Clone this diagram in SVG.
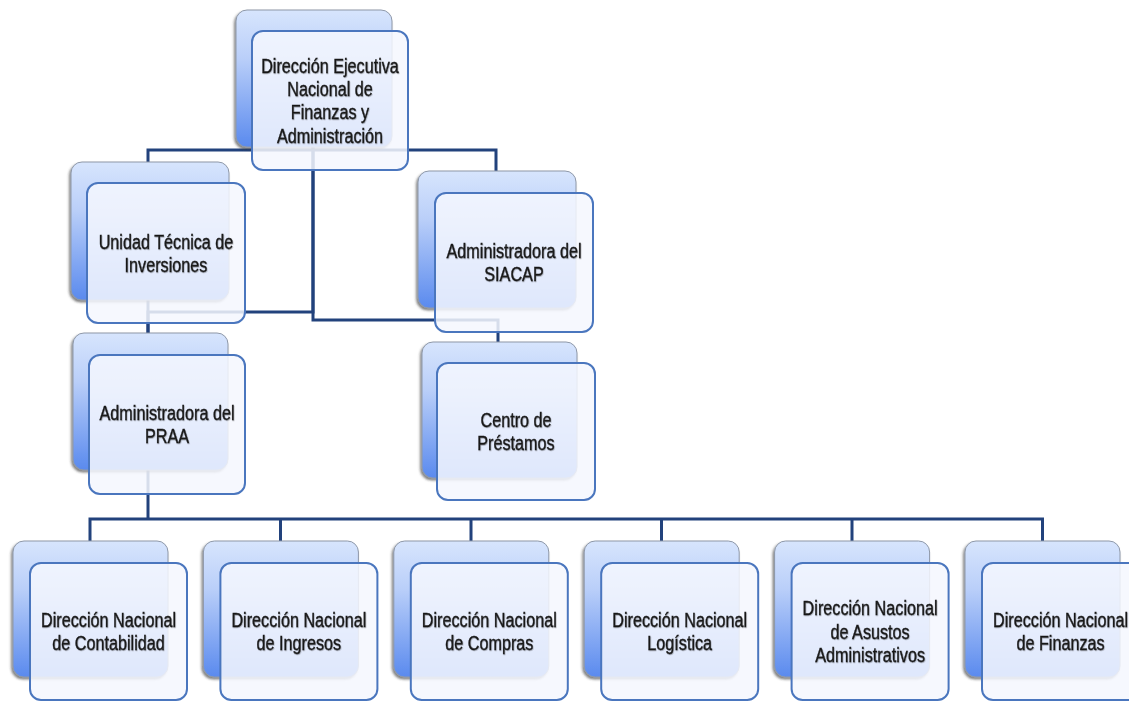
<svg xmlns="http://www.w3.org/2000/svg" width="1129" height="702" viewBox="0 0 1129 702">
<defs>
<linearGradient id="bg" x1="0" y1="0" x2="0" y2="1">
<stop offset="0" stop-color="#D7E5FD"/>
<stop offset="0.35" stop-color="#BACFF9"/>
<stop offset="1" stop-color="#5A8AEE"/>
</linearGradient>
<filter id="sh" x="-10%" y="-10%" width="120%" height="120%">
<feDropShadow dx="-1.5" dy="2" stdDeviation="1.2" flood-color="#333" flood-opacity="0.6"/>
</filter>
<filter id="ts" x="-5%" y="-20%" width="110%" height="140%">
<feDropShadow dx="0.6" dy="0.8" stdDeviation="0.6" flood-color="#000" flood-opacity="0.35"/>
</filter>
</defs>
<style>
.back{fill:url(#bg);stroke:#8E98A8;stroke-width:1;filter:url(#sh)}
.front{fill:#F4F7FE;fill-opacity:0.86;stroke:#4A76BE;stroke-width:2}
.lbl{font-family:"Liberation Sans",Arial,sans-serif;font-size:20px;fill:#1A1A1A;stroke:#1A1A1A;stroke-width:0.35;text-anchor:middle;filter:url(#ts)}
.con{fill:none;stroke:#22427C;stroke-width:3;stroke-linejoin:miter}
</style>
<rect width="1129" height="702" fill="#FFFFFF"/>
<g id="connectors">
<path class="con" d="M148,162 V150 H496 V171"/>
<path class="con" d="M313,147 V312 H148 V333"/>
<path class="con" d="M313,147 V320 H498 V342"/>
<path class="con" d="M148,300 V333"/>
<path class="con" d="M148,470 V519"/>
<path class="con" d="M90,541 V519 H1042.5 V541"/>
<path class="con" d="M280.5,519 V541 M471,519 V541 M661.5,519 V541 M852,519 V541"/>
</g>
<g id="n-top">
<rect class="back" x="236" y="10" width="156" height="137" rx="11"/>
<rect class="front" x="252" y="31" width="156" height="139" rx="11"/>
<text class="lbl" transform="translate(330,72.5) scale(0.81,1)"><tspan x="0">Dirección Ejecutiva</tspan><tspan x="0" dy="23.5">Nacional de</tspan><tspan x="0" dy="23.5">Finanzas y</tspan><tspan x="0" dy="23.5">Administración</tspan></text>
</g>
<g id="n-unidad">
<rect class="back" x="71" y="162" width="158" height="138" rx="11"/>
<rect class="front" x="87" y="183" width="158" height="140" rx="11"/>
<text class="lbl" transform="translate(166,248.5) scale(0.81,1)"><tspan x="0">Unidad Técnica de</tspan><tspan x="0" dy="23.5">Inversiones</tspan></text>
</g>
<g id="n-siacap">
<rect class="back" x="418" y="171" width="158" height="137" rx="11"/>
<rect class="front" x="435" y="193" width="158" height="139" rx="11"/>
<text class="lbl" transform="translate(514,257.5) scale(0.81,1)"><tspan x="0">Administradora del</tspan><tspan x="0" dy="23.5">SIACAP</tspan></text>
</g>
<g id="n-praa">
<rect class="back" x="73" y="333" width="155" height="137" rx="11"/>
<rect class="front" x="89" y="355" width="156" height="139" rx="11"/>
<text class="lbl" transform="translate(167,419.5) scale(0.81,1)"><tspan x="0">Administradora del</tspan><tspan x="0" dy="23.5">PRAA</tspan></text>
</g>
<g id="n-centro">
<rect class="back" x="422" y="342" width="155" height="136" rx="11"/>
<rect class="front" x="437" y="363" width="158" height="137" rx="11"/>
<text class="lbl" transform="translate(516,427) scale(0.81,1)"><tspan x="0">Centro de</tspan><tspan x="0" dy="23.5">Préstamos</tspan></text>
</g>
<g id="n-contabilidad">
<rect class="back" x="13" y="541" width="155" height="136" rx="11"/>
<rect class="front" x="30" y="563" width="157" height="137" rx="11"/>
<text class="lbl" transform="translate(108.5,627) scale(0.81,1)"><tspan x="0">Dirección Nacional</tspan><tspan x="0" dy="23.5">de Contabilidad</tspan></text>
</g>
<g id="n-ingresos">
<rect class="back" x="203.4" y="541" width="155" height="136" rx="11"/>
<rect class="front" x="220.4" y="563" width="157" height="137" rx="11"/>
<text class="lbl" transform="translate(298.9,627) scale(0.81,1)"><tspan x="0">Dirección Nacional</tspan><tspan x="0" dy="23.5">de Ingresos</tspan></text>
</g>
<g id="n-compras">
<rect class="back" x="393.8" y="541" width="155" height="136" rx="11"/>
<rect class="front" x="410.8" y="563" width="157" height="137" rx="11"/>
<text class="lbl" transform="translate(489.3,627) scale(0.81,1)"><tspan x="0">Dirección Nacional</tspan><tspan x="0" dy="23.5">de Compras</tspan></text>
</g>
<g id="n-logistica">
<rect class="back" x="584.2" y="541" width="155" height="136" rx="11"/>
<rect class="front" x="601.2" y="563" width="157" height="137" rx="11"/>
<text class="lbl" transform="translate(679.7,627) scale(0.81,1)"><tspan x="0">Dirección Nacional</tspan><tspan x="0" dy="23.5">Logística</tspan></text>
</g>
<g id="n-asuntos">
<rect class="back" x="774.6" y="541" width="155" height="136" rx="11"/>
<rect class="front" x="791.6" y="563" width="157" height="137" rx="11"/>
<text class="lbl" transform="translate(870.1,615.2) scale(0.81,1)"><tspan x="0">Dirección Nacional</tspan><tspan x="0" dy="23.5">de Asustos</tspan><tspan x="0" dy="23.5">Administrativos</tspan></text>
</g>
<g id="n-finanzas">
<rect class="back" x="965" y="541" width="155" height="136" rx="11"/>
<rect class="front" x="982" y="563" width="157" height="137" rx="11"/>
<text class="lbl" transform="translate(1060.5,627) scale(0.81,1)"><tspan x="0">Dirección Nacional</tspan><tspan x="0" dy="23.5">de Finanzas</tspan></text>
</g>
</svg>
